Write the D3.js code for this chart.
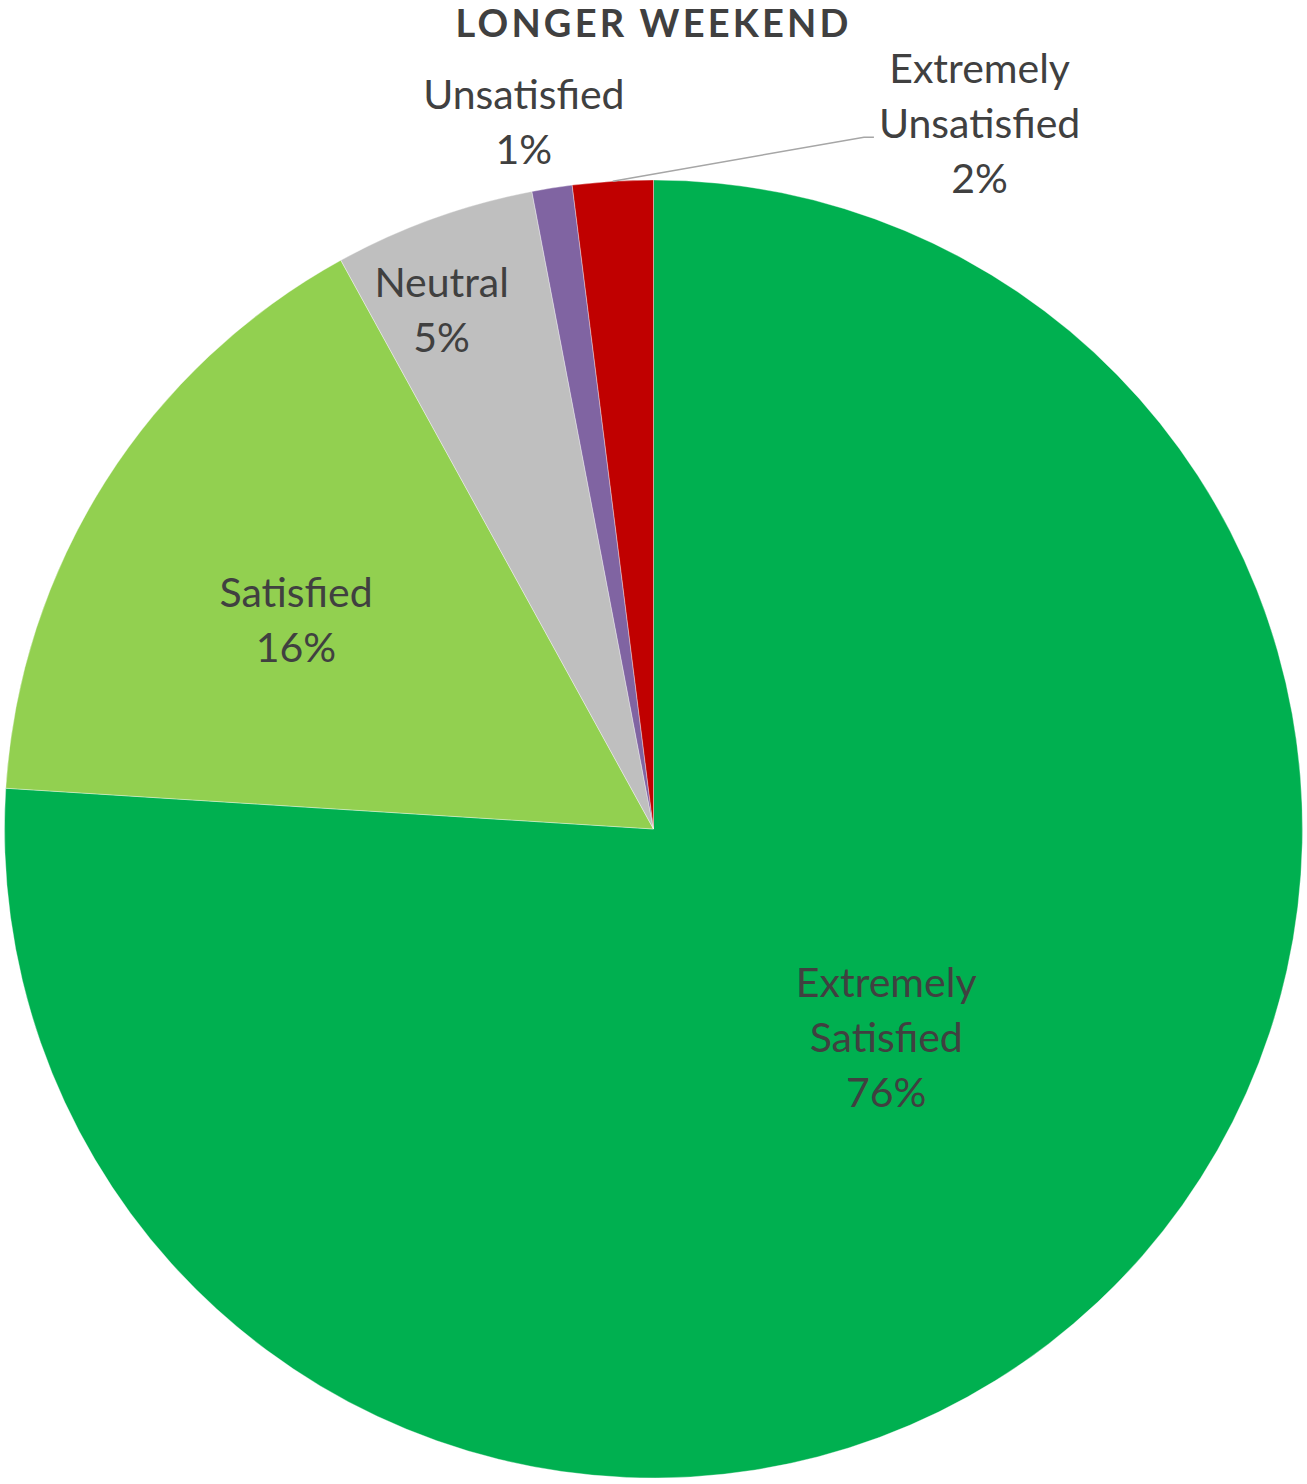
<!DOCTYPE html>
<html>
<head>
<meta charset="utf-8">
<title>Longer Weekend</title>
<script src="https://cdn.jsdelivr.net/npm/d3@7"></script>
<style>
  html, body { margin: 0; padding: 0; background: #fff; }
  svg { display: block; }
</style>
</head>
<body>
<svg id="chart" width="1307" height="1484"></svg>
<script>
// Survey responses, in clockwise order from 12 o'clock
const categories = ["Extremely Satisfied", "Satisfied", "Neutral", "Unsatisfied", "Extremely Unsatisfied"];
const values = [76, 16, 5, 1, 2];
const labelLines = [
  ["Extremely", "Satisfied"],
  ["Satisfied"],
  ["Neutral"],
  ["Unsatisfied"],
  ["Extremely", "Unsatisfied"]
];
const colors = ["#00B050", "#92D050", "#BFBFBF", "#8064A2", "#C00000"];
const title = "LONGER WEEKEND";

// Where each data label sits: polar angle (degrees clockwise from top) and radius as a share of the pie radius
const labelAngle = [131.8, 300.3, 337.8, 349.6, 24.8];
const labelRadius = [0.481, 0.638, 0.864, 1.107, 1.198];
const leaderLine = [false, false, false, false, true];

const W = 1307, H = 1484;
const cx = 653.5, cy = 829, R = 649;
const fontFamily = "Lato, 'Open Sans', 'Noto Sans', sans-serif";
const textColor = "#404040";
const fontSize = 41, lineGap = 55, capHalf = 14.5;

const svg = d3.select("#chart");

// Title, stretched with letter spacing to its set width
const titleText = svg.append("text")
  .attr("x", W / 2 + 0.5)
  .attr("y", 37)
  .attr("text-anchor", "middle")
  .attr("font-family", fontFamily)
  .attr("font-weight", 700)
  .attr("font-size", 38)
  .attr("fill", textColor)
  .text(title);
const baseW = titleText.node().getComputedTextLength();
const spacing = (393 - baseW) / (title.length - 1);
titleText.attr("letter-spacing", spacing).attr("x", 652 + spacing / 2);

const pie = d3.pie().sort(null).value(d => d)(values);
const arc = d3.arc().innerRadius(0).outerRadius(R);

const g = svg.append("g").attr("transform", `translate(${cx},${cy})`);

g.selectAll("path.slice")
  .data(pie)
  .join("path")
  .attr("class", "slice")
  .attr("d", arc)
  .attr("fill", (d, i) => colors[i])
  .attr("stroke", "#ffffff")
  .attr("stroke-width", 0.6)
  .attr("stroke-opacity", 0.6);

const fmt = d3.format(".0%");
const total = d3.sum(values);

pie.forEach((d, i) => {
  const a = labelAngle[i] * Math.PI / 180;
  const r = labelRadius[i] * R;
  const lx = Math.sin(a) * r;
  const ly = -Math.cos(a) * r;
  const lines = labelLines[i].concat([fmt(values[i] / total)]);
  const firstBase = ly - (lines.length - 1) * lineGap / 2 + capHalf;

  const t = g.append("text")
    .attr("text-anchor", "middle")
    .attr("font-family", fontFamily)
    .attr("font-size", fontSize)
    .attr("fill", textColor);
  lines.forEach((s, k) => {
    t.append("tspan").attr("x", lx).attr("y", firstBase + k * lineGap).text(s);
  });

  if (leaderLine[i]) {
    const mid = (d.startAngle + d.endAngle) / 2;
    const sx = Math.sin(mid) * R, sy = -Math.cos(mid) * R;
    const bb = t.node().getBBox();
    const ey = firstBase + lineGap - 0.5;
    const ex = bb.x - 5;
    g.insert("path", "text")
      .attr("d", d3.line()([[sx, sy], [ex - 10, ey], [ex, ey]]))
      .attr("fill", "none")
      .attr("stroke", "#A6A6A6")
      .attr("stroke-width", 1.5);
  }
});
</script>
</body>
</html>
